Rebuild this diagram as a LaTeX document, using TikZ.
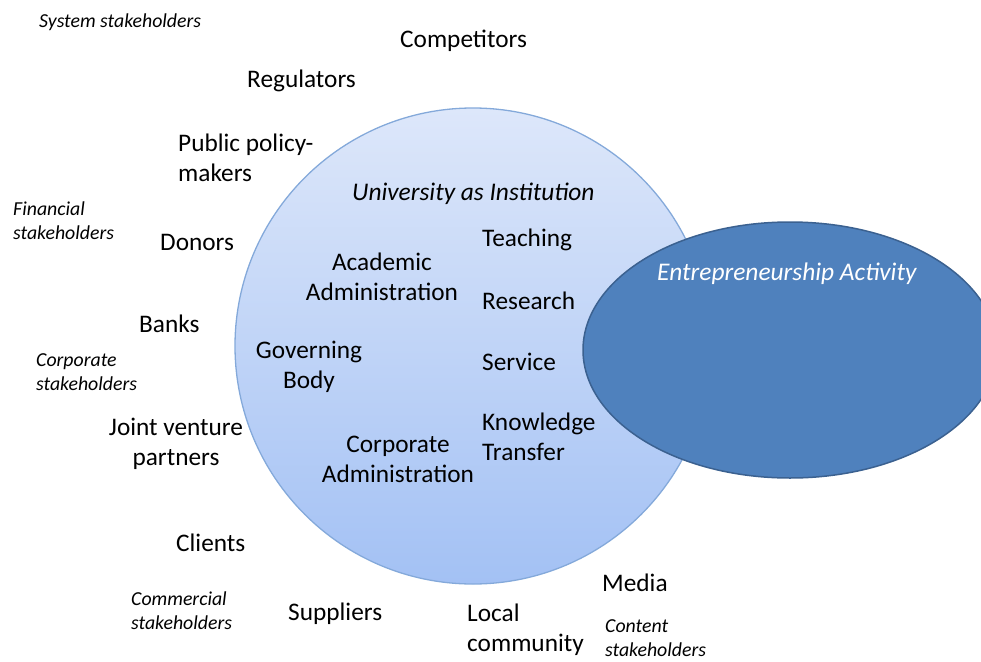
\documentclass[tikz,border=0pt]{standalone}
\usepackage{fontspec}
\setmainfont{Carlito}
\usetikzlibrary{shapes.geometric}
\definecolor{circtop}{HTML}{DDE7FA}
\definecolor{circbot}{HTML}{A3C1F4}
\definecolor{circline}{HTML}{84A9DA}
\definecolor{ellfill}{HTML}{4F81BD}
\definecolor{ellline}{HTML}{3B6190}
\tikzset{
  lbl/.style={inner sep=0pt, font=\fontsize{25.3}{30}\selectfont, anchor=west, align=left},
  lblc/.style={inner sep=0pt, font=\fontsize{25.3}{30}\selectfont, align=center},
  grp/.style={inner sep=0pt, font=\fontsize{19.8}{24}\selectfont\itshape, anchor=west, align=left},
  ttl/.style={inner sep=0pt, font=\fontsize{25.4}{30}\selectfont\itshape, anchor=west},
}
\begin{document}
\begin{tikzpicture}[x=1pt,y=-1pt]
\useasboundingbox (0,0) rectangle (981,661);
\begin{scope}
\clip (0,0) rectangle (981,661);
% university circle with a vertical gradient
\shade[top color=circtop, bottom color=circbot, draw=circline, line width=1.3pt]
  (473,346) circle (238);
% entrepreneurship ellipse overlapping on the right
\node[ellipse, fill=ellfill, draw=ellline, line width=1.5pt,
  minimum width=414pt, minimum height=256pt, inner sep=0pt] (ent) at (790,350) {};
\end{scope}

% labels inside the circle
\node[ttl] (uni) at (352,194) {University as Institution};
\node[lbl] (teach) at (482,240) {Teaching};
\node[lbl] (res) at (482,301) {Research};
\node[lbl] (serv) at (482,362) {Service};
\node[lbl] (kt) at (482,437) {Knowledge\\Transfer};
\node[lblc] (acad) at (382,277) {Academic\\Administration};
\node[lblc] (gov) at (309,367) {Governing\\Body};
\node[lblc] (corp) at (398,459) {Corporate\\Administration};
\node[ttl, text=white] (enttxt) at (657,274) {Entrepreneurship Activity};

% stakeholders around the circle
\node[lbl] (comp) at (400,41) {Competitors};
\node[lbl] (reg) at (247,81) {Regulators};
\node[lbl] (ppm) at (178,158) {Public policy-\\makers};
\node[lbl] (don) at (160,242) {Donors};
\node[lbl] (bank) at (139,324) {Banks};
\node[lblc] (jv) at (176,444) {Joint venture\\partners};
\node[lbl] (cli) at (176,543) {Clients};
\node[lbl] (sup) at (288,614) {Suppliers};
\node[lbl] (loc) at (467,630) {Local\\community};
\node[lbl] (med) at (602,583) {Media};

% stakeholder group captions
\node[grp] (sys) at (39,22) {System stakeholders};
\node[grp] (fin) at (13,221) {Financial\\stakeholders};
\node[grp] (cor) at (36,372) {Corporate\\stakeholders};
\node[grp] (com) at (131,611) {Commercial\\stakeholders};
\node[grp] (con) at (605,638) {Content\\stakeholders};
\end{tikzpicture}
\end{document}
